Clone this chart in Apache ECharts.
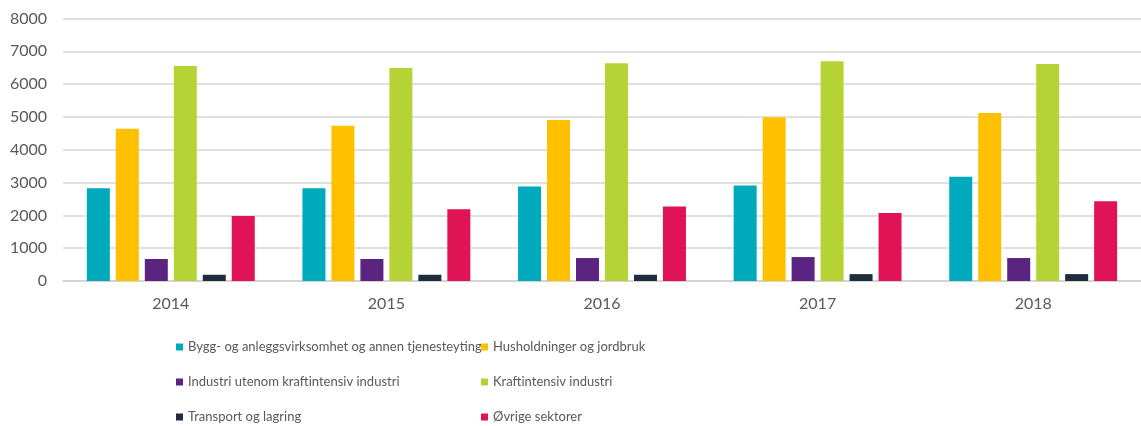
<!DOCTYPE html>
<html>
<head>
<meta charset="utf-8">
<script src="https://cdn.jsdelivr.net/npm/echarts@6/dist/echarts.min.js"></script>
<style>
  html, body { margin: 0; padding: 0; background: #fff; }
  #chart { width: 1141px; height: 426px; }
</style>
</head>
<body>
<div id="chart"></div>
<script>
// Years on the category axis
const years = ['2014', '2015', '2016', '2017', '2018'];

// Consumption by sector per year
const bygg = [2830, 2830, 2880, 2910, 3180];
const husholdninger = [4640, 4730, 4910, 4990, 5120];
const industri = [670, 670, 700, 730, 700];
const kraftintensiv = [6550, 6490, 6640, 6700, 6610];
const transport = [190, 190, 190, 210, 210];
const ovrige = [1980, 2190, 2270, 2070, 2430];

// Series names
const names = [
  'Bygg- og anleggsvirksomhet og annen tjenesteyting',
  'Husholdninger og jordbruk',
  'Industri utenom kraftintensiv industri',
  'Kraftintensiv industri',
  'Transport og lagring',
  'Øvrige sektorer'
];
const values = [bygg, husholdninger, industri, kraftintensiv, transport, ovrige];
const colors = ['#00AABD', '#FFC000', '#5C2481', '#B6D335', '#1E2D3D', '#DF1356'];

const FONT = 'Lato';
const TEXT = '#595959';

const chart = echarts.init(document.getElementById('chart'), null, { renderer: 'canvas' });

// Legend laid out as two columns by three rows, one entry per legend box
const colLeft = [176, 481];
const rowCenter = [347, 382, 417];
const legends = names.map((n, i) => ({
  left: colLeft[i % 2],
  top: rowCenter[Math.floor(i / 2)] - 8,
  padding: 0,
  icon: 'rect',
  itemWidth: 7,
  itemHeight: 7,
  selectedMode: false,
  data: [n],
  textStyle: { fontFamily: FONT, fontSize: 13, lineHeight: 16, color: TEXT }
}));

chart.setOption({
  animation: false,
  color: colors,
  grid: { left: 63, right: -9, top: 18.5, bottom: 145 },
  legend: legends,
  xAxis: {
    type: 'category',
    data: years,
    axisTick: { show: false },
    axisLine: { lineStyle: { color: '#d0d0d0', width: 1.5 } },
    axisLabel: { margin: 15, fontFamily: FONT, fontSize: 16, color: TEXT }
  },
  yAxis: {
    type: 'value',
    min: 0,
    max: 8000,
    interval: 1000,
    axisLine: { show: false },
    axisTick: { show: false },
    splitLine: { lineStyle: { color: '#d6d6d6', width: 1.5 } },
    axisLabel: { margin: 16, fontFamily: FONT, fontSize: 16, color: TEXT, formatter: v => String(v) }
  },
  series: names.map((n, i) => ({
    name: n,
    type: 'bar',
    data: values[i],
    barWidth: 23,
    barGap: '26%',
    itemStyle: { color: colors[i] }
  }))
});
</script>
</body>
</html>
